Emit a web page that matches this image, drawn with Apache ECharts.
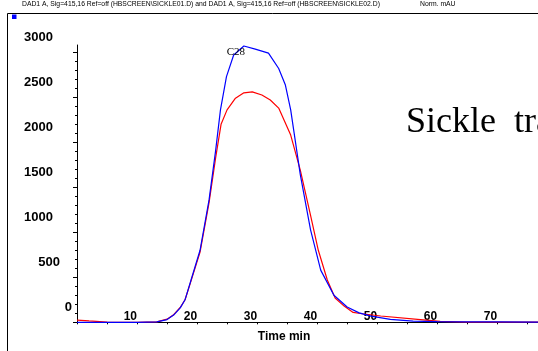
<!DOCTYPE html>
<html>
<head>
<meta charset="utf-8">
<script src="https://cdn.jsdelivr.net/npm/echarts@6/dist/echarts.min.js"></script>
<style>
  html, body { margin: 0; padding: 0; background: #fff; }
  #chart { width: 538px; height: 351px; }
</style>
</head>
<body>
<div id="chart"></div>
<script>
// Chromatogram overlay: two runs, retention time (min) vs detector signal
const blueTime   = [0, 5, 10, 13.3, 15, 16.1, 17.2, 18, 19, 20.5, 22, 23.1, 23.9, 24.9, 26.1, 27.8, 29.7, 31.9, 33.6, 34.7, 35.6, 37.2, 38.9, 40.6, 42.8, 45, 47, 49, 52.2, 56, 60, 65, 70, 76.8];
const blueSignal = [0, 0, 0, 5, 30, 80, 160, 250, 470, 800, 1360, 1910, 2360, 2730, 2970, 3070, 3035, 2990, 2820, 2640, 2360, 1640, 1030, 580, 300, 170, 105, 68, 33, 14, 8, 5, 4, 3];

const redTime   = [0, 2, 5, 10, 13.3, 15, 16.1, 17.2, 18, 19, 20.5, 22, 23.1, 24, 25, 26.4, 27.8, 29.2, 30.8, 32.2, 33.6, 35.6, 37.2, 38.9, 40.2, 41.7, 43, 44.5, 46, 47.5, 50.6, 57.2, 60.5, 65, 76.8];
const redSignal = [25, 15, 3, 0, 5, 35, 85, 165, 250, 460, 780, 1330, 1830, 2200, 2360, 2490, 2550, 2560, 2525, 2470, 2380, 2080, 1690, 1190, 800, 470, 270, 180, 110, 95, 70, 30, 10, 3, 2];

const timeLabels   = [10, 20, 30, 40, 50, 60, 70];
const signalLabels = [0, 500, 1000, 1500, 2000, 2500, 3000];
const signalMinorStep = 100;

const peakLabel   = 'C28';
const sideTitle   = 'Sickle  trait';
const headerLeft  = 'DAD1 A, Sig=415,16 Ref=off (HBSCREEN\\SICKLE01.D) and DAD1 A, Sig=415,16 Ref=off (HBSCREEN\\SICKLE02.D)';
const headerRight = 'Norm. mAU';

const signalMinorTicks = [];
for (let v = 0; v <= signalLabels[signalLabels.length - 1]; v += signalMinorStep) signalMinorTicks.push(v);

function pairs(xs, ys) { return xs.map((x, i) => [x, ys[i]]); }

// apex of the blue trace carries the peak tag
const peakIdx = blueSignal.indexOf(Math.max(...blueSignal));
const peakCoord = [blueTime[peakIdx], blueSignal[peakIdx]];

const axisFont = { fontFamily: 'Liberation Sans', fontWeight: 'bold', color: '#000' };

const chart = echarts.init(document.getElementById('chart'), null, { renderer: 'canvas' });
chart.setOption({
  animation: false,
  backgroundColor: '#fff',
  grid: { left: 77, right: 0, top: 45, bottom: 28.7, containLabel: false, outerBoundsMode: 'none' },
  xAxis: {
    type: 'value', min: 0, max: 76.8, interval: 5,
    name: 'Time min', nameLocation: 'middle', nameGap: 8,
    nameTextStyle: Object.assign({ fontSize: 12, padding: [0, 47, 0, 0], verticalAlign: 'top' }, axisFont),
    axisLine: { lineStyle: { color: '#000', width: 1 } },
    axisTick: { show: true, length: 2, lineStyle: { color: '#000' } },
    axisLabel: Object.assign({ customValues: timeLabels, fontSize: 12, align: 'right', verticalAlign: 'bottom', margin: 0 }, axisFont),
    splitLine: { show: false }
  },
  yAxis: [{
    type: 'value', min: 0, max: 3081, interval: 500,
    axisLine: { show: true, lineStyle: { color: '#000', width: 1 } },
    axisTick: { show: true, length: 4, customValues: signalLabels, lineStyle: { color: '#000' } },
    axisLabel: {
      customValues: signalLabels, margin: 5, verticalAlign: 'middle',
      formatter: v => v >= 1000 ? '{k|' + v + '}' : (v > 0 ? '{h|' + v + '}' : '{z|' + v + '}'),
      rich: {
        k: Object.assign({ fontSize: 13, padding: [0, 19, 30, 0] }, axisFont),
        h: Object.assign({ fontSize: 13, padding: [0, 12, 30, 0] }, axisFont),
        z: Object.assign({ fontSize: 13, padding: [0, 0, 30, 0] }, axisFont)
      }
    },
    splitLine: { show: false }
  }, {
    type: 'value', min: 0, max: 3081, position: 'left',
    axisLine: { show: false },
    axisTick: { show: true, length: 2, customValues: signalMinorTicks, lineStyle: { color: '#000' } },
    axisLabel: { show: false },
    splitLine: { show: false }
  }],
  series: [{
    type: 'line', data: pairs(redTime, redSignal), showSymbol: false, z: 2,
    lineStyle: { color: '#ff0000', width: 1.2 }, itemStyle: { color: '#ff0000' }
  }, {
    type: 'line', data: pairs(blueTime, blueSignal), showSymbol: false, z: 3,
    lineStyle: { color: '#0000ff', width: 1.2 }, itemStyle: { color: '#0000ff' },
    markPoint: {
      symbol: 'circle', symbolSize: 1, silent: true,
      itemStyle: { color: 'rgba(0,0,0,0)' },
      label: { show: true, formatter: peakLabel, position: 'inside', offset: [-8, 6], fontFamily: 'Liberation Serif', fontSize: 11, color: '#000' },
      data: [{ coord: peakCoord }]
    }
  }],
  graphic: [
    { type: 'line', shape: { x1: 7.5, y1: 13.5, x2: 538, y2: 13.5 }, style: { stroke: '#000', lineWidth: 1 } },
    { type: 'line', shape: { x1: 7.5, y1: 13.5, x2: 7.5, y2: 351 }, style: { stroke: '#000', lineWidth: 1 } },
    { type: 'rect', shape: { x: 12, y: 14.5, width: 4.5, height: 4.5 }, style: { fill: '#0000ff' } },
    { type: 'text', x: 22, y: 4.5, style: { text: headerLeft, fontFamily: 'Liberation Sans', fontSize: 6.8, fill: '#000', verticalAlign: 'middle' } },
    { type: 'text', x: 420, y: 4.5, style: { text: headerRight, fontFamily: 'Liberation Sans', fontSize: 6.8, fill: '#000', verticalAlign: 'middle' } },
    { type: 'text', x: 406, y: 122.9, style: { text: sideTitle, fontFamily: 'Liberation Serif', fontSize: 36, fill: '#000', verticalAlign: 'middle' } }
  ]
});
</script>
</body>
</html>
